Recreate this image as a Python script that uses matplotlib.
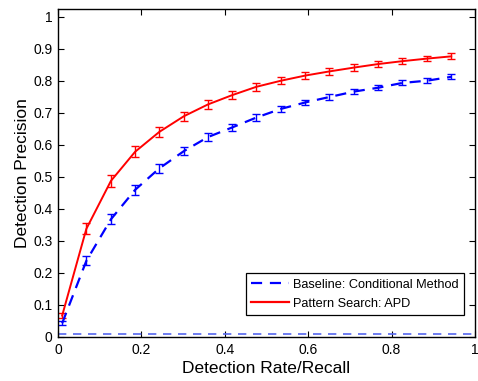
import matplotlib
matplotlib.use("Agg")
import matplotlib.pyplot as plt
from matplotlib.ticker import FixedLocator
from matplotlib.lines import Line2D

plt.rcParams['font.family'] = ['Liberation Sans', 'DejaVu Sans']

recall = [0.010, 0.068, 0.127, 0.185, 0.243, 0.302, 0.360, 0.418, 0.476,
          0.535, 0.593, 0.651, 0.710, 0.768, 0.826, 0.885, 0.943]
apd_prec = [0.067, 0.338, 0.488, 0.579, 0.641, 0.690, 0.727, 0.756, 0.782,
            0.801, 0.817, 0.830, 0.842, 0.853, 0.862, 0.870, 0.877]
apd_err = [0.008, 0.017, 0.019, 0.017, 0.015, 0.014, 0.013, 0.012, 0.012,
           0.011, 0.011, 0.010, 0.010, 0.009, 0.009, 0.009, 0.009]
base_prec = [0.043, 0.238, 0.368, 0.460, 0.527, 0.581, 0.625, 0.655, 0.686,
             0.713, 0.733, 0.750, 0.767, 0.779, 0.794, 0.801, 0.813]
base_err = [0.007, 0.014, 0.016, 0.015, 0.013, 0.012, 0.012, 0.011, 0.010,
            0.010, 0.009, 0.009, 0.008, 0.008, 0.008, 0.008, 0.008]
random_level = 0.01

xticks = [0, 0.2, 0.4, 0.6, 0.8, 1]
xticklabels = ['0', '0.2', '0.4', '0.6', '0.8', '1']
yticks = [0, 0.1, 0.2, 0.3, 0.4, 0.5, 0.6, 0.7, 0.8, 0.9, 1]
yticklabels = ['0', '0.1', '0.2', '0.3', '0.4', '0.5', '0.6', '0.7', '0.8', '0.9', '1']
legend_labels = ['Baseline: Conditional Method', 'Pattern Search: APD']

fig = plt.figure(figsize=(4.78, 3.81), dpi=100)
ax = fig.add_axes([58/478, 44/381, 417/478, 328/381])

ax.axhline(random_level, color='#5566ee', linestyle=(0, (5, 4)), linewidth=1.2)

ax.errorbar(recall, base_prec, yerr=base_err, color='#0000ff', linestyle=(0, (5, 3.5)),
            linewidth=1.6, capsize=3, elinewidth=1.0, capthick=1.0)
ax.errorbar(recall, apd_prec, yerr=apd_err, color='#ff0000', linestyle='-',
            linewidth=1.4, capsize=3, elinewidth=1.0, capthick=1.0)

ax.set_xlim(0, 1)
ax.set_ylim(0, 1.025)
ax.xaxis.set_major_locator(FixedLocator(xticks))
ax.set_xticklabels(xticklabels)
ax.yaxis.set_major_locator(FixedLocator(yticks))
ax.set_yticklabels(yticklabels)
ax.tick_params(direction='in', length=4, width=0.8, top=True, right=True,
               labelsize=10, colors='black', pad=4)
for s in ax.spines.values():
    s.set_linewidth(1.0)

ax.set_xlabel('Detection Rate/Recall', fontsize=12.5, labelpad=3)
ax.set_ylabel('Detection Precision', fontsize=12.5, labelpad=2)

h = [Line2D([], [], color='#0000ff', linestyle=(0, (5, 3.5)), linewidth=1.6),
     Line2D([], [], color='#ff0000', linestyle='-', linewidth=1.6)]
leg = ax.legend(h, legend_labels, loc='lower right', bbox_to_anchor=(0.974, 0.067),
                fontsize=9.2, frameon=True, fancybox=False, framealpha=1,
                edgecolor='black', borderpad=0.42, handlelength=3.0,
                handletextpad=0.3, labelspacing=0.55, borderaxespad=0)
leg.get_frame().set_linewidth(0.9)

fig.savefig('out.png', dpi=100)
